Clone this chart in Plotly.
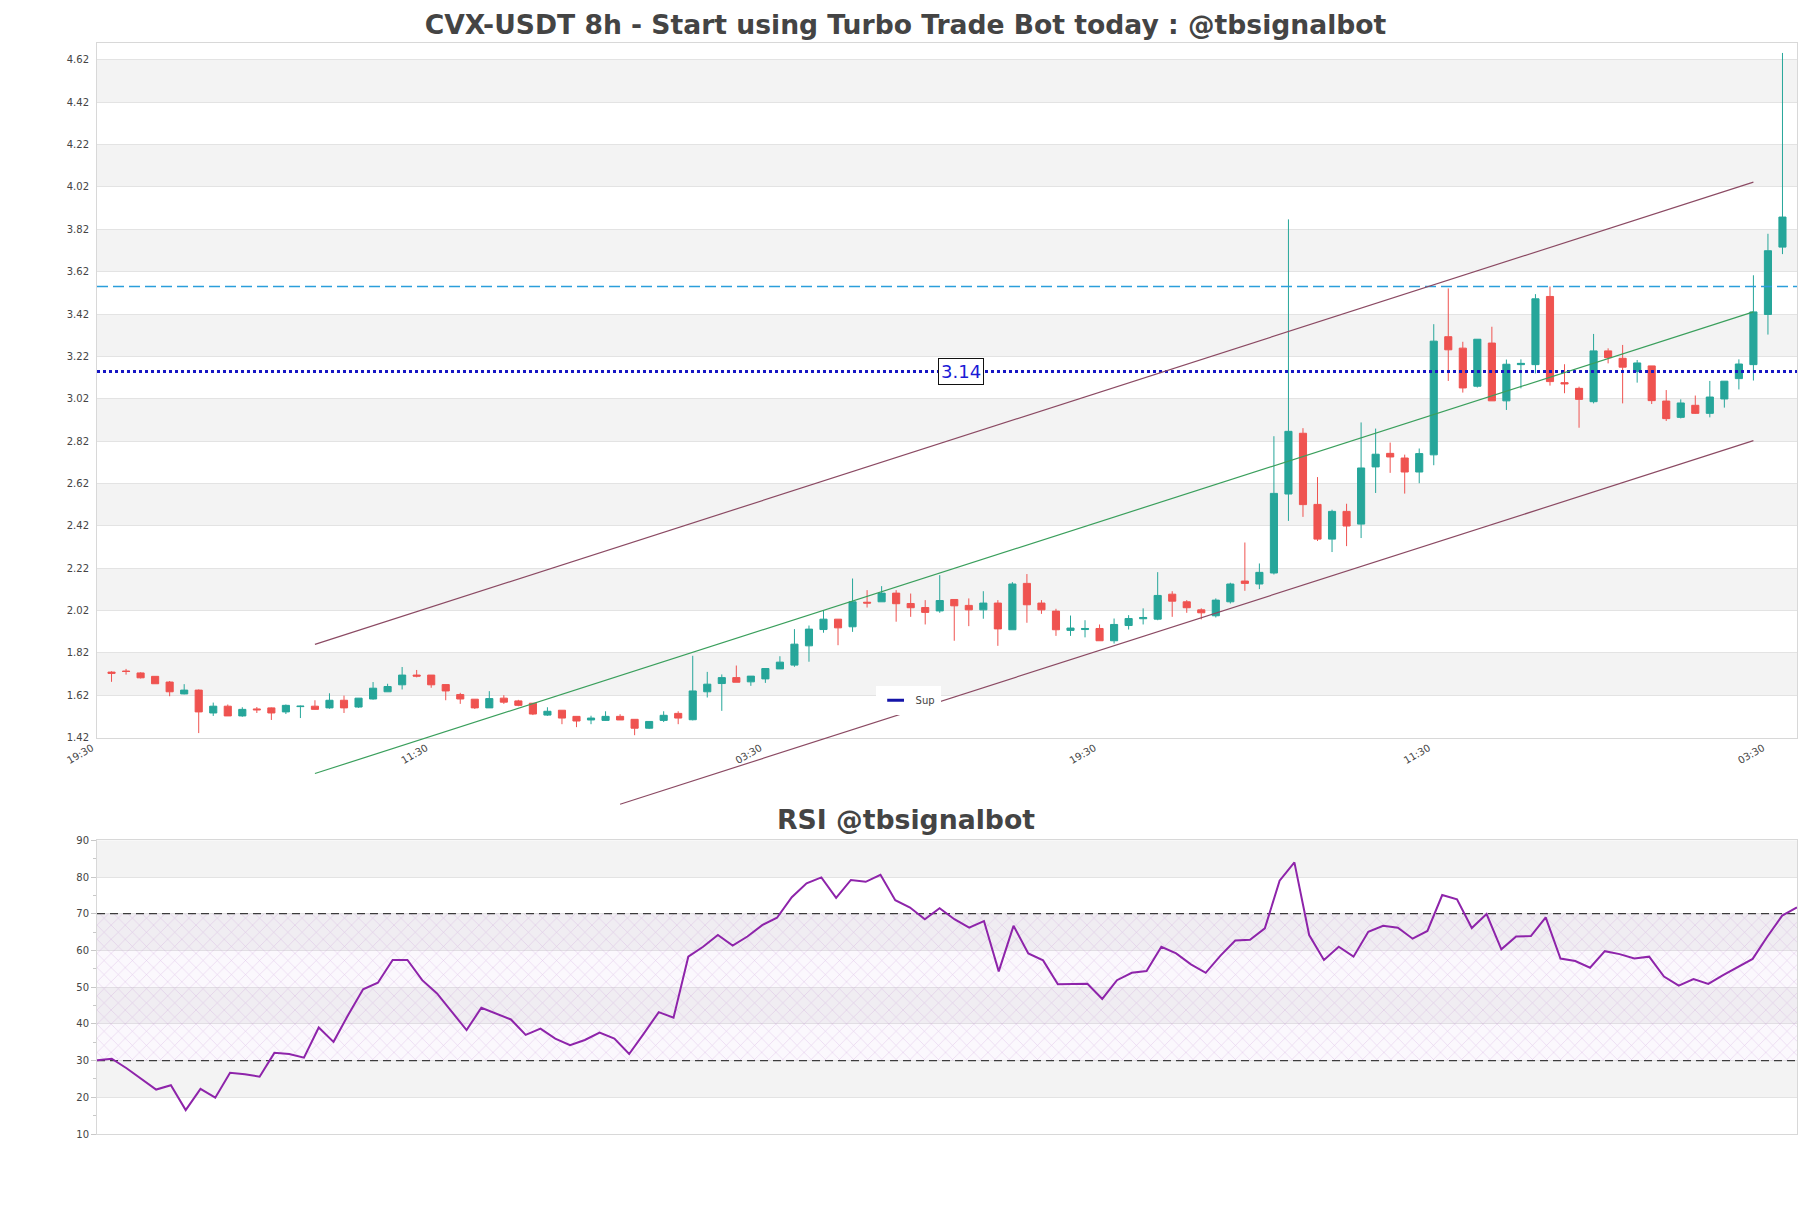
import pandas as pd
import plotly.graph_objects as go

# ---------------- data ----------------
start_time = "2024-10-28 03:30"

opens = [1.729, 1.734, 1.725, 1.709, 1.682, 1.626, 1.644, 1.536, 1.568, 1.522,
         1.555, 1.560, 1.541, 1.566, 1.568, 1.560, 1.596, 1.564, 1.602, 1.636,
         1.669, 1.715, 1.715, 1.670, 1.623, 1.601, 1.560, 1.606, 1.593, 1.582,
         1.526, 1.549, 1.520, 1.503, 1.501, 1.520, 1.506, 1.464, 1.501, 1.534,
         1.504, 1.636, 1.675, 1.703, 1.683, 1.697, 1.744, 1.762, 1.853, 1.930,
         1.979, 1.943, 2.059, 2.061, 2.102, 2.053, 2.034, 2.018, 2.072, 2.044,
         2.023, 2.055, 1.929, 2.148, 2.055, 2.017, 1.926, 1.930, 1.935, 1.877,
         1.949, 1.981, 1.979, 2.097, 2.061, 2.023, 1.995, 2.061, 2.159, 2.145,
         2.197, 2.570, 2.857, 2.521, 2.357, 2.488, 2.428, 2.698, 2.762, 2.740,
         2.674, 2.755, 3.313, 3.259, 3.079, 3.283, 3.010, 3.181, 3.181, 3.503,
         3.096, 3.069, 3.006, 3.246, 3.211, 3.148, 3.175, 3.009, 2.932, 2.989,
         2.951, 3.019, 3.115, 3.181, 3.418, 3.736]
highs = [1.733, 1.744, 1.728, 1.710, 1.687, 1.672, 1.647, 1.585, 1.576, 1.563,
         1.564, 1.562, 1.576, 1.571, 1.596, 1.629, 1.618, 1.606, 1.682, 1.674,
         1.753, 1.739, 1.715, 1.670, 1.631, 1.601, 1.639, 1.620, 1.598, 1.583,
         1.563, 1.549, 1.520, 1.523, 1.544, 1.530, 1.506, 1.496, 1.544, 1.544,
         1.806, 1.730, 1.718, 1.760, 1.710, 1.746, 1.804, 1.932, 1.949, 2.022,
         1.979, 2.171, 2.116, 2.135, 2.116, 2.100, 2.069, 2.187, 2.072, 2.077,
         2.111, 2.069, 2.154, 2.192, 2.069, 2.028, 1.996, 1.974, 1.954, 1.982,
         1.998, 2.030, 2.201, 2.111, 2.069, 2.030, 2.077, 2.151, 2.341, 2.242,
         2.843, 3.867, 2.881, 2.650, 2.496, 2.524, 2.908, 2.879, 2.813, 2.756,
         2.785, 3.372, 3.541, 3.289, 3.301, 3.360, 3.205, 3.206, 3.514, 3.550,
         3.183, 3.077, 3.326, 3.258, 3.274, 3.203, 3.175, 3.061, 3.017, 3.035,
         3.104, 3.103, 3.206, 3.603, 3.799, 4.653]
lows = [1.683, 1.717, 1.699, 1.674, 1.615, 1.624, 1.441, 1.522, 1.522, 1.518,
        1.536, 1.503, 1.531, 1.512, 1.552, 1.556, 1.536, 1.560, 1.599, 1.636,
        1.647, 1.704, 1.655, 1.596, 1.579, 1.555, 1.560, 1.579, 1.568, 1.526,
        1.522, 1.483, 1.469, 1.483, 1.499, 1.503, 1.431, 1.460, 1.493, 1.483,
        1.501, 1.609, 1.546, 1.681, 1.664, 1.678, 1.744, 1.754, 1.778, 1.915,
        1.856, 1.919, 2.034, 2.061, 1.967, 1.990, 1.954, 2.009, 1.877, 1.946,
        1.981, 1.853, 1.929, 1.962, 2.004, 1.900, 1.900, 1.893, 1.877, 1.864,
        1.930, 1.954, 1.974, 1.990, 2.009, 1.978, 1.987, 2.053, 2.113, 2.121,
        2.190, 2.443, 2.462, 2.348, 2.296, 2.324, 2.362, 2.575, 2.670, 2.572,
        2.621, 2.706, 3.104, 3.049, 3.073, 3.010, 2.967, 3.069, 3.140, 3.082,
        3.046, 2.883, 2.998, 3.187, 2.998, 3.096, 2.995, 2.915, 2.927, 2.948,
        2.932, 2.978, 3.064, 3.106, 3.323, 3.703]
closes = [1.723, 1.732, 1.702, 1.674, 1.636, 1.644, 1.541, 1.568, 1.522, 1.553,
          1.551, 1.536, 1.572, 1.568, 1.553, 1.596, 1.560, 1.606, 1.653, 1.661,
          1.715, 1.710, 1.669, 1.640, 1.602, 1.560, 1.604, 1.587, 1.572, 1.531,
          1.544, 1.512, 1.498, 1.512, 1.520, 1.503, 1.464, 1.496, 1.525, 1.512,
          1.640, 1.672, 1.703, 1.681, 1.710, 1.746, 1.776, 1.861, 1.932, 1.979,
          1.938, 2.061, 2.055, 2.102, 2.052, 2.033, 2.011, 2.067, 2.042, 2.023,
          2.055, 1.933, 2.145, 2.047, 2.023, 1.929, 1.937, 1.935, 1.877, 1.954,
          1.982, 1.987, 2.091, 2.064, 2.033, 2.009, 2.069, 2.145, 2.148, 2.200,
          2.573, 2.866, 2.520, 2.357, 2.488, 2.419, 2.693, 2.758, 2.745, 2.674,
          2.761, 3.292, 3.251, 3.071, 3.301, 3.010, 3.183, 3.187, 3.492, 3.101,
          3.090, 3.017, 3.246, 3.214, 3.169, 3.189, 3.011, 2.926, 3.000, 2.951,
          3.028, 3.103, 3.184, 3.430, 3.719, 3.878]

rsi = [30.1, 30.5, 27.9, 24.9, 22.1, 23.3, 16.5, 22.3, 19.9, 26.7,
       26.3, 25.6, 32.1, 31.8, 30.8, 39.0, 35.1, 42.5, 49.4, 51.2,
       57.4, 57.4, 51.9, 48.3, 43.3, 38.3, 44.4, 42.9, 41.2, 37.0,
       38.7, 36.0, 34.2, 35.6, 37.6, 36.0, 31.8, 37.4, 43.2, 41.7,
       58.3, 61.0, 64.2, 61.3, 63.8, 66.9, 68.9, 74.5, 78.3, 79.9,
       74.3, 79.2, 78.7, 80.6, 73.7, 71.7, 68.5, 71.5, 68.5, 66.2,
       68.0, 54.3, 66.7, 59.2, 57.3, 50.8, 50.9, 50.9, 46.8, 51.9,
       53.9, 54.4, 61.0, 59.2, 56.2, 53.9, 58.6, 62.7, 62.9, 66.0,
       79.0, 84.0, 64.2, 57.4, 61.0, 58.3, 65.1, 66.7, 66.2, 63.2,
       65.3, 75.1, 73.9, 66.1, 69.9, 60.3, 63.8, 63.9, 69.0, 57.8,
       57.1, 55.3, 59.8, 59.0, 57.8, 58.3, 52.9, 50.4, 52.2, 50.9,
       53.3, 55.6, 57.7, 63.8, 69.5, 71.7]

res_level = 3.55
sup_level = 3.149
sup_label = f"{int(sup_level * 100) / 100:.2f}"

# channel end points: (candle position, price)
upper_pos, upper_y = [14, 113], [1.86, 4.043]
mid_pos, mid_y = [14, 113], [1.25, 3.43]
lower_pos, lower_y = [35, 113], [1.105, 2.822]

price_ticks = [1.42, 1.62, 1.82, 2.02, 2.22, 2.42, 2.62, 2.82, 3.02, 3.22,
               3.42, 3.62, 3.82, 4.02, 4.22, 4.42, 4.62]
rsi_ticks = [10, 20, 30, 40, 50, 60, 70, 80, 90]
rsi_bounds = [30, 70]

# ---------------- figure ----------------
times = pd.date_range(start_time, periods=len(opens), freq="8h")
step = pd.Timedelta(hours=8)
x_lo, x_hi = times[0] - step, times[-1] + step

UP, DOWN = "#26a69a", "#ef5350"
GRID, BAND, FRAME = "#e3e3e3", "#f3f3f3", "#d8d8d8"
TXT = "#444444"
SUP = "#1616c4"

main_dom = [0.3634, 1.0]
rsi_dom = [0.0, 0.2692]
y_rng = [1.42, 4.70]
ext_low = 1.0
ppu = (main_dom[1] - main_dom[0]) / (y_rng[1] - y_rng[0])
ext_dom = [main_dom[0] - (y_rng[0] - ext_low) * ppu, main_dom[1]]

fig = go.Figure()

fig.add_trace(go.Candlestick(
    x=times, open=opens, high=highs, low=lows, close=closes,
    increasing=dict(line=dict(color=UP, width=1), fillcolor=UP),
    decreasing=dict(line=dict(color=DOWN, width=1), fillcolor=DOWN),
    showlegend=False, xaxis="x", yaxis="y"))

fig.add_trace(go.Scatter(x=[x_lo, x_hi], y=[res_level, res_level], mode="lines",
                         line=dict(color="#2b9edb", width=1.4, dash="11px,5px"),
                         showlegend=False, hoverinfo="skip"))
fig.add_trace(go.Scatter(x=[x_lo, x_hi], y=[sup_level, sup_level], mode="lines",
                         line=dict(color=SUP, width=3, dash="dot"),
                         showlegend=False, hoverinfo="skip"))
fig.add_trace(go.Scatter(x=[None], y=[None], mode="markers", name="Sup",
                         marker=dict(symbol="line-ew-open", size=12, color="#1414a8",
                                     line=dict(color="#1414a8", width=3))))

for pos, ys, col in [(upper_pos, upper_y, "#8b4a63"),
                     (mid_pos, mid_y, "#3a9f5c"),
                     (lower_pos, lower_y, "#8b4a63")]:
    fig.add_trace(go.Scatter(x=[times[p] for p in pos], y=ys, mode="lines",
                             line=dict(color=col, width=1.2),
                             showlegend=False, hoverinfo="skip",
                             xaxis="x", yaxis="y3"))

# RSI panel
fig.add_trace(go.Scatter(
    x=[times[0], times[-1], times[-1], times[0]],
    y=[rsi_bounds[0], rsi_bounds[0], rsi_bounds[1], rsi_bounds[1]],
    fill="toself", mode="none", fillcolor="rgba(205,160,220,0.08)",
    fillpattern=dict(shape="x", size=10, solidity=0.1,
                     fgcolor="rgba(185,125,205,0.8)", fillmode="overlay"),
    showlegend=False, hoverinfo="skip", xaxis="x2", yaxis="y2"))
for lvl in rsi_bounds:
    fig.add_trace(go.Scatter(x=[times[0], times[-1]], y=[lvl, lvl], mode="lines",
                             line=dict(color="#3c3c3c", width=1.3, dash="8px,5px"),
                             showlegend=False, hoverinfo="skip",
                             xaxis="x2", yaxis="y2"))
fig.add_trace(go.Scatter(x=times, y=rsi, mode="lines",
                         line=dict(color="#8e24aa", width=2),
                         showlegend=False, xaxis="x2", yaxis="y2"))

# alternating background bands
shapes = []
for k in range(1, len(price_ticks) - 1, 2):
    shapes.append(dict(type="rect", xref="paper", yref="y", x0=0, x1=1,
                       y0=price_ticks[k], y1=price_ticks[k + 1],
                       fillcolor=BAND, line=dict(width=0), layer="below"))
for k in range(1, len(rsi_ticks) - 1, 2):
    shapes.append(dict(type="rect", xref="paper", yref="y2", x0=0, x1=1,
                       y0=rsi_ticks[k], y1=rsi_ticks[k + 1],
                       fillcolor=BAND, line=dict(width=0), layer="below"))

fig.update_layout(
    width=1795, height=1192,
    margin=dict(l=89, r=6, t=35, b=66),
    paper_bgcolor="white", plot_bgcolor="rgba(0,0,0,0)",
    font=dict(family="DejaVu Sans", color=TXT, size=10),
    title=dict(text="<b>CVX-USDT 8h - Start using Turbo Trade Bot today : @tbsignalbot</b>",
               x=0.5, xref="container", xanchor="center",
               y=1 - 17 / 1192, yref="container", yanchor="middle",
               font=dict(size=26.6, color=TXT)),
    showlegend=True,
    legend=dict(x=0.458, y=0.4109, xanchor="left", yanchor="top",
                bgcolor="white", borderwidth=0, font=dict(size=10)),
    shapes=shapes,
    xaxis=dict(type="date", domain=[0, 1], anchor="y", range=[x_lo, x_hi],
               tick0=x_lo, dtick=23 * 8 * 3600 * 1000, tickformat="%H:%M",
               tickangle=-30, tickfont=dict(size=10, color=TXT),
               showgrid=False, showline=True, mirror=True, linecolor=FRAME,
               ticks="", ticklabelshift=-5, ticklabelstandoff=0,
               rangeslider=dict(visible=False)),
    yaxis=dict(domain=main_dom, anchor="x", range=y_rng,
               tickvals=price_ticks, ticktext=[f"{v:.2f}" for v in price_ticks],
               tickfont=dict(size=10, color=TXT), showgrid=True, gridcolor=GRID,
               zeroline=False, showline=True, mirror=True, linecolor=FRAME,
               ticks="outside", ticklen=5, tickcolor="rgba(0,0,0,0)"),
    yaxis3=dict(domain=ext_dom, anchor="x", range=[ext_low, y_rng[1]],
                visible=False, showgrid=False),
    xaxis2=dict(type="date", domain=[0, 1], anchor="y2", showticklabels=False,
                showgrid=False, showline=True, mirror=True, linecolor=FRAME),
    yaxis2=dict(domain=rsi_dom, anchor="x2", range=[rsi_ticks[0], rsi_ticks[-1]],
                tickmode="linear", tick0=10, dtick=10,
                tickfont=dict(size=10, color=TXT), showgrid=True, gridcolor=GRID,
                zeroline=False, showline=True, mirror=True, linecolor=FRAME,
                ticks="outside", ticklen=5, tickcolor="#c8c8c8",
                minor=dict(dtick=5, ticks="outside", ticklen=3,
                           tickcolor="#c8c8c8", showgrid=False)),
    annotations=[
        dict(text="<b>RSI @tbsignalbot</b>", xref="paper", yref="paper",
             x=0.4756, y=0.2881, xanchor="center", yanchor="middle",
             showarrow=False, font=dict(size=26.7, color=TXT)),
        dict(text=sup_label, xref="paper", yref="y", x=0.5085, y=sup_level,
             xanchor="center", yanchor="middle", showarrow=False,
             font=dict(size=18, color="#1a1ad6"), bgcolor="white",
             bordercolor="#111111", borderwidth=1, borderpad=2),
    ],
)

fig.write_html("out.html")
